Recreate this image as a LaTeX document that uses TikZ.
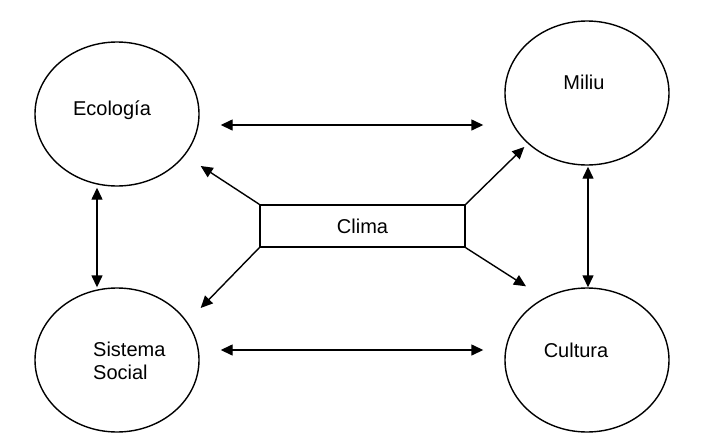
\documentclass[tikz,border=0pt]{standalone}
\usepackage{fontspec}
\setmainfont{Liberation Sans}
\usetikzlibrary{shapes.geometric,arrows.meta}
\begin{document}
\begin{tikzpicture}[x=1pt,y=-1pt,
  circ/.style={draw,line width=1.4pt,ellipse,minimum width=164pt,minimum height=144pt,inner sep=0pt},
  lbl/.style={font=\fontsize{20}{23.5}\selectfont,inner sep=0pt},
  box/.style={draw,line width=1.4pt,rectangle,minimum width=205pt,minimum height=42pt,inner sep=0pt},
  link/.style={line width=1.4pt,-{Triangle[length=12pt,width=11pt]}},
  both/.style={line width=1.4pt,{Triangle[length=12pt,width=11pt]}-{Triangle[length=12pt,width=11pt]}}]
\useasboundingbox (0,0) rectangle (716,445);
% the four domains
\node[circ] (eco) at (117,114) {};
\node[circ] (mil) at (587,93) {};
\node[circ] (soc) at (117,360) {};
\node[circ] (cul) at (587,360) {};
\node[lbl] (ecot) at (112,110) {Ecología};
\node[lbl] (milt) at (584,82) {Miliu};
\node[lbl,align=left,anchor=west] (soct) at (93,361) {Sistema\\Social};
\node[lbl] (cult) at (576,350) {Cultura};
% climate in the middle
\node[box,lbl,minimum width=205pt,minimum height=42pt] (cli) at (362.5,226) {Clima};
% mutual relations
\draw[both] ([shift={(21,11)}]eco.east) -- ([shift={(-21,32)}]mil.west);
\draw[both] ([shift={(21,-10)}]soc.east) -- ([shift={(-21,-10)}]cul.west);
\draw[both] ([shift={(-20,1)}]eco.south) -- ([shift={(-20,0)}]soc.north);
\draw[both] ([shift={(1,1)}]mil.south) -- ([shift={(1,0)}]cul.north);
% climate influences
\draw[link] (cli.north west) -- ([shift={(1,52)}]eco.east);
\draw[link] (cli.south west) -- ([shift={(1,-52)}]soc.east);
\draw[link] (cli.north east) -- ([shift={(20,54)}]mil.west);
\draw[link] (cli.south east) -- ([shift={(-61,-1)}]cul.north);
\end{tikzpicture}
\end{document}
